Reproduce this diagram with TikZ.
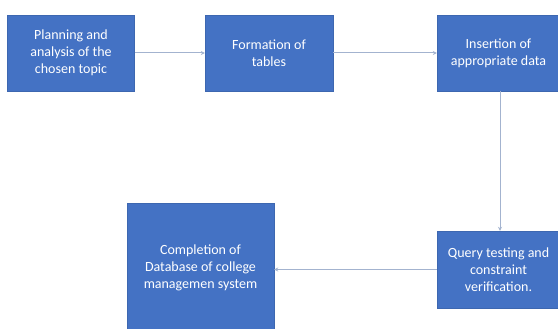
\documentclass[tikz,border=0pt]{standalone}
\usepackage{fontspec}
\setmainfont{Carlito}
\definecolor{boxblue}{HTML}{4472C4}
\definecolor{linegray}{HTML}{A3B3CF}
\tikzset{
  stepbox/.style={rectangle, fill=boxblue, draw=boxblue!90!black, line width=0.4pt,
    text=white, align=center, font=\fontsize{14}{17}\selectfont, inner sep=2pt},
  flow/.style={draw=linegray, line width=1pt, -{Stealth[length=4pt,width=4pt]}}
}
\usetikzlibrary{arrows.meta}
\begin{document}
\begin{tikzpicture}[x=1pt,y=-1pt]
\useasboundingbox (0,0) rectangle (558,329);
\node[stepbox, minimum width=127pt, minimum height=76pt] (plan) at (71,53) {Planning and\\analysis of the\\chosen topic};
\node[stepbox, minimum width=128pt, minimum height=76pt] (tables) at (269,53) {Formation of\\tables};
\node[stepbox, minimum width=123pt, minimum height=76pt] (insert) at (498.5,53) {Insertion of\\appropriate data};
\node[stepbox, minimum width=123pt, minimum height=77pt] (query) at (498.5,269.5) {Query testing and\\constraint\\verification.};
\node[stepbox, minimum width=147pt, minimum height=130pt] (done) at (200.5,268) {Completion of\\Database of college\\managemen system};
\draw[flow] (plan) -- (tables);
\draw[flow] (tables) -- (insert);
\draw[flow] (insert.south -| 500,0) -- (query.north -| 500,0);
\draw[flow] (query.west) -- (query.west -| done.east);
\end{tikzpicture}
\end{document}
